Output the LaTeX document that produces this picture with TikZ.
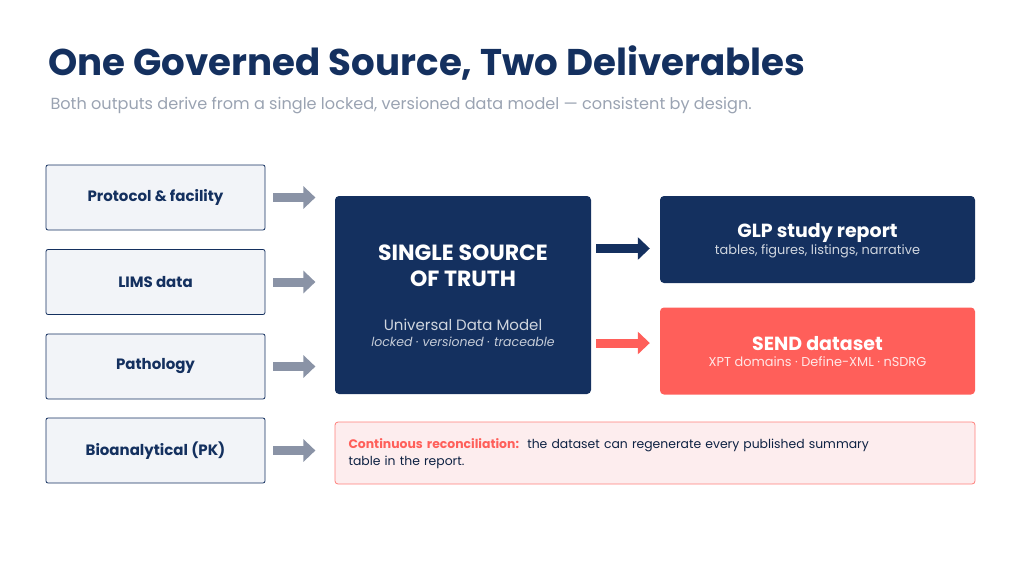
\documentclass[tikz,border=0pt]{standalone}
\usepackage{fontspec}
\setmainfont{Poppins}
\usetikzlibrary{arrows.meta,positioning}
\definecolor{navy}{HTML}{14305F}
\definecolor{coral}{HTML}{FF5F5A}
\definecolor{paleblue}{HTML}{F2F4F8}
\definecolor{palered}{HTML}{FDEDEE}
\definecolor{slate}{HTML}{8A93A6}
\definecolor{subgray}{HTML}{9AA3B2}
\tikzset{
    src/.style={draw=navy,line width=0.8pt,fill=paleblue,rounded corners=2pt,minimum width=219pt,minimum height=65pt,font=\bfseries\fontsize{15}{18}\selectfont,text=navy},
    deliv/.style={rounded corners=4pt,minimum width=315pt,minimum height=87pt},
    dhead/.style={text=white,font=\bfseries\fontsize{19}{22}\selectfont},
    dsub/.style={font=\fontsize{12.9}{15}\selectfont},
    blk/.style={line width=9pt,-{Triangle[length=12pt,width=22pt]}},
  }
\begin{document}
\begin{tikzpicture}[x=1pt,y=-1pt]
				  \useasboundingbox (0,0) rectangle (1024,576);
				  %title
				  \node[anchor=base west,text=navy,font=\bfseries\fontsize{37.2}{42}\selectfont] (title) at (45,75) {One Governed Source, Two Deliverables};
				  \node[anchor=base west,text=subgray,font=\fontsize{16.1}{19}\selectfont] (sub) at (47,109) {Both outputs derive from a single locked, versioned data model — consistent by design.};
				  %sources
				  \node[src] (prot) at (155.5,197.5) {Protocol \& facility};
				  \node[src] (lims) at (155.5,282) {LIMS data};
				  \node[src] (path) at (155.5,366.5) {Pathology};
				  \node[src] (bio) at (155.5,450.5) {Bioanalytical (PK)};
				  %hub
				  \node[fill=navy,rounded corners=4pt,minimum width=256pt,minimum height=198pt] (ssot) at (463,295) {};
				  \node[text=white,align=center,font=\bfseries\fontsize{22}{26}\selectfont] (ssott) at (463,266) {SINGLE SOURCE\\OF TRUTH};
				  \node[text=white!80!navy,font=\fontsize{15}{18}\selectfont] (udm) at (463,325) {Universal Data Model};
				  \node[text=white!75!navy,font=\itshape\fontsize{12.5}{14}\selectfont] (udms) at (463,342) {locked · versioned · traceable};
				  %outputs
				  \node[deliv,fill=navy] (glp) at (817.5,239.5) {};
				  \node[dhead] (glph) at (817.5,233) {GLP study report};
				  \node[dsub,text=white!80!navy] (glps) at (817.5,251) {tables, figures, listings, narrative};
				  \node[deliv,fill=coral] (send) at (817.5,351) {};
				  \node[dhead] (sendh) at (817.5,344) {SEND dataset};
				  \node[dsub,text=white!85!coral] (sends) at (817.5,362) {XPT domains · Define-XML · nSDRG};
				  %note
				  \node[draw=coral!80,line width=0.8pt,fill=palered,rounded corners=3pt,minimum width=640pt,minimum height=62pt] (note) at (655,453) {};
				  \node[anchor=north west,text width=545pt,align=left,font=\fontsize{12.4}{17}\selectfont,text=navy!70!black] (notet) at (345,435) {{\bfseries\color{coral}Continuous reconciliation:}\ \ the dataset can regenerate every published summary table in the report.};
				  %arrows
				  \foreach \s in {prot,lims,path,bio}
				    \draw[blk,slate] ([xshift=8pt]\s.east) -- ++(42,0);
				  \draw[blk,navy] ([xshift=5pt,yshift=-9pt]ssot.east |- glp.west) -- ([xshift=-10pt,yshift=-9pt]glp.west);
				  \draw[blk,coral] ([xshift=5pt,yshift=8pt]ssot.east |- send.west) -- ([xshift=-10pt,yshift=8pt]send.west);
\end{tikzpicture}
\end{document}
